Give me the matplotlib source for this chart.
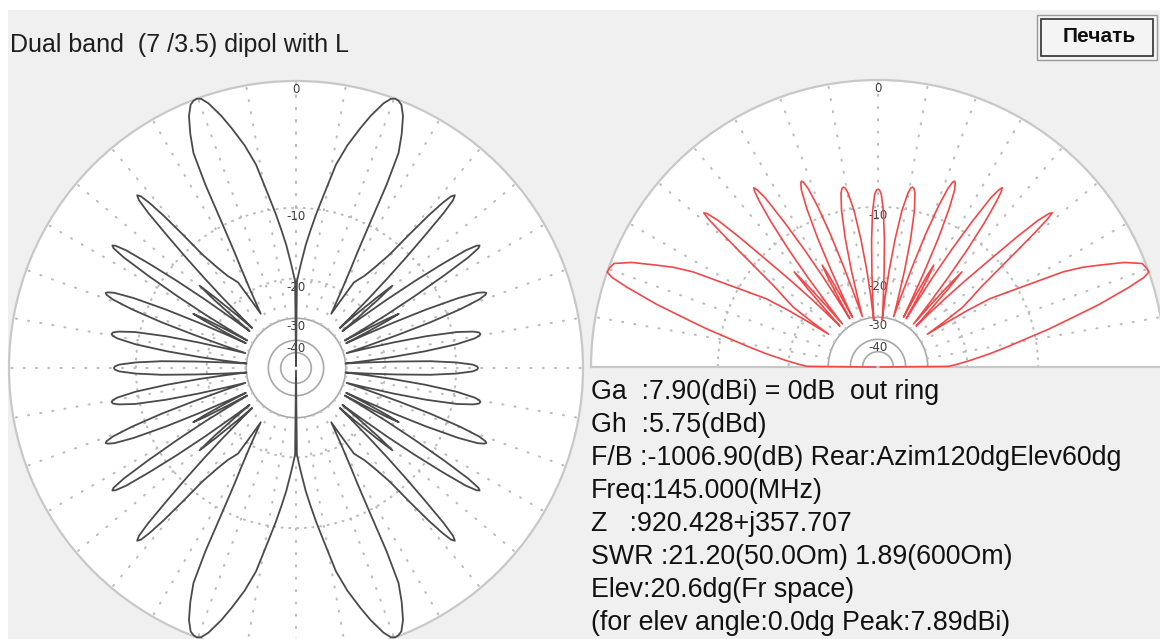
import numpy as np
import matplotlib
matplotlib.use("Agg")
import matplotlib.pyplot as plt
from matplotlib.patches import Rectangle

# ---------------------------------------------------------------- data
TITLE = "Dual band  (7 /3.5) dipol with L"
BUTTON = "Печать"

# Horizontal pattern, one quadrant: angle from the wire axis (deg) and gain (dB, 0 = outer ring)
az_deg = [0.0, 0.6, 2.6, 4.5, 6.0, 7.5, 9.3, 11.1, 13.0, 15.0, 16.5, 18.3, 19.4, 20.2, 21.0, 21.8, 23.0, 24.3,
          25.5, 26.3, 27.1, 28.0, 28.9, 30.5, 32.0, 33.0,
          33.6, 34.1, 35.5, 36.5, 38.0, 39.5, 40.3, 41.0, 41.6, 42.1, 42.6, 43.1, 43.6, 44.2, 44.9, 45.6,
          46.3, 47.0, 47.6,
          48.2, 48.9, 49.5, 50.2, 50.9, 51.5,
          52.2, 53.0, 53.8, 54.6, 55.3, 55.9, 56.3, 56.7, 57.3, 58.0, 58.8, 59.5, 60.1, 60.6,
          61.2, 61.7, 62.2, 62.7, 63.2, 63.7,
          64.3, 65.0, 65.8, 66.7, 67.5, 68.1, 68.5, 68.9, 69.5, 70.3, 71.2, 72.0, 72.8, 73.6,
          74.4, 75.3, 76.3, 77.4, 78.4, 79.0, 79.5, 80.0, 80.6, 81.6, 82.6, 83.5, 84.2, 84.8,
          85.5, 86.3, 87.1, 88.0, 88.9, 89.5, 90.0]
az_db = [-80, -20.5, -17.5, -14.5, -12.5, -10.5, -8.2, -5.6, -3.9, -2.5, -1.5, -0.5, -0.1, 0.0, -0.05, -0.2, -0.8, -1.9,
         -3.2, -5.8, -10.0, -13.5, -16.0, -20.0, -23.5, -25.5,
         -21, -17.5, -16.5, -15.8, -14.0, -11.5, -8.5, -6.0, -4.5, -3.7, -3.45, -3.8, -5.0, -7.5, -10.5, -14,
         -18, -23, -27,
         -22, -17, -14, -17, -22, -27,
         -22, -16, -11.5, -8, -5.6, -4.7, -4.5, -4.7, -5.8, -8.5, -12.5, -17, -23, -28,
         -22, -17.5, -15.5, -17.5, -22, -28,
         -23, -17, -12, -8.3, -6.5, -5.95, -5.8, -5.95, -6.6, -8.5, -12, -17, -23, -29,
         -24, -18, -13, -9.5, -7.9, -7.4, -7.3, -7.4, -7.9, -9.8, -13.5, -18.5, -24, -30,
         -24, -18, -13, -10, -8.3, -7.9, -7.8]

# Vertical pattern, elevation 0..90 deg (mirrored to 180) and gain (dB)
el_deg = [0.0, 0.5, 2.0, 4.0, 6.8, 9.0, 10.8, 12.5, 14.2, 15.8, 17.6, 18.6, 19.3, 20.2, 21.4, 23.0, 24.7, 26.0,
          27.2, 28.8, 30.2, 31.4, 32.3, 32.8, 33.2, 33.6,
          34.3, 35.2, 36.5, 37.8, 39.0, 39.9, 40.6, 41.1, 41.5, 41.9, 42.5, 43.1, 43.8, 44.7, 45.6, 46.4, 47.0,
          47.6, 48.1, 48.6, 49.2, 49.8, 50.4,
          51.1, 51.9, 52.7, 53.6, 54.4, 54.9, 55.3, 55.7, 56.3, 57.1, 57.9, 58.6, 59.2, 59.7,
          60.3, 60.8, 61.3, 61.8, 62.3, 62.8,
          63.4, 64.1, 64.9, 65.8, 66.6, 67.2, 67.6, 68.0, 68.6, 69.4, 70.3, 71.1, 71.9, 72.7,
          73.6, 74.6, 75.7, 76.9, 78.0, 78.6, 79.1, 79.6, 80.2, 81.3, 82.4, 83.4, 84.2, 84.8,
          85.5, 86.3, 87.1, 88.0, 88.9, 89.5, 90.0]
el_db = [-80, -24, -22, -19.5, -16, -13.3, -11, -8.5, -6.2, -3.8, -1.5, -0.4, 0.0, -0.05, -0.2, -1.2, -2.8, -4.0,
         -5.5, -9.0, -11.5, -13.4, -17, -20.5, -24, -27,
         -22, -17.5, -15.5, -13.5, -10.5, -7.8, -5.6, -4.2, -3.6, -3.8, -4.8, -7, -10.5, -14.5, -19, -24, -28,
         -22, -17, -14, -17, -22, -28,
         -22, -16, -11.5, -8, -5.9, -5.0, -4.7, -5.0, -5.9, -8.7, -12.5, -17, -23, -28,
         -22, -17.5, -15.5, -17.5, -22, -28,
         -23, -17, -12, -8.6, -6.8, -6.25, -6.1, -6.25, -6.9, -8.8, -12.3, -17, -23, -29,
         -24, -18, -13.3, -9.9, -8.2, -7.8, -7.7, -7.8, -8.3, -10.2, -13.8, -18.5, -24, -31,
         -25, -19, -14, -10.5, -8.7, -8.3, -8.2]

ring_levels = [0, -10, -20, -30, -40]
ring_labels = ["0", "-10", "-20", "-30", "-40"]
dotted_rings = [-10, -20]
solid_rings = [-30, -40, -50]

info_lines = [
    "Ga  :7.90(dBi) = 0dB  out ring",
    "Gh  :5.75(dBd)",
    "F/B :-1006.90(dB) Rear:Azim120dgElev60dg",
    "Freq:145.000(MHz)",
    "Z   :920.428+j357.707",
    "SWR :21.20(50.0Om) 1.89(600Om)",
    "Elev:20.6dg(Fr space)",
    "(for elev angle:0.0dg Peak:7.89dBi)",
]

# ---------------------------------------------------------------- figure
W, H = 1160, 639
fig = plt.figure(figsize=(W / 100, H / 100), dpi=100)
fig.patch.set_facecolor("white")


def px_rect(x0, y0, x1, y1):
    """pixel box (top-left origin) -> figure fraction rect"""
    return [x0 / W, 1 - y1 / H, (x1 - x0) / W, (y1 - y0) / H]


panel = Rectangle((8 / W, 0), 1, 1 - 10 / H, transform=fig.transFigure,
                  facecolor="#f0f0f0", edgecolor="none", zorder=-10)
fig.patches.append(panel)

# ARRL style log radius: every 2 dB shrinks the radius by a factor 0.89
KDB = -np.log(0.89) / 2.0


def fwd(d):
    return np.exp(KDB * np.asarray(d, dtype=float))


def inv(r):
    return np.log(np.maximum(np.asarray(r, dtype=float), 1e-12)) / KDB


GRID_DOT = "#bcbcbc"
RING = "#a8a8a8"
EDGE = "#c8c8c8"
R0 = 287


def style_axes(ax, label_theta, span):
    ax.set_rscale("function", functions=(fwd, inv))
    ax.set_rlim(-120, 0)
    ax.set_xticks([])
    ax.set_yticks([])
    ax.grid(False)
    ax.set_facecolor("white")
    for sp in ax.spines.values():
        sp.set_color(EDGE)
        sp.set_linewidth(1.6)
    th = np.linspace(span[0], span[1], 721)
    for lv in dotted_rings:
        ax.plot(th, np.full_like(th, lv), color=GRID_DOT, lw=1.5,
                ls=(0, (0.5, 3.2)), dash_capstyle="round", zorder=1)
    for lv in solid_rings:
        ax.plot(th, np.full_like(th, lv), color=RING, lw=1.2, zorder=1)
    for a in np.arange(span[0], span[1] + 1e-6, np.radians(10)):
        ax.plot([a, a], [-30, 0], color=GRID_DOT, lw=1.5,
                ls=(0, (0.5, 5.4)), dash_capstyle="round", zorder=1)
    for lv, lb in zip(ring_levels, ring_labels):
        ax.annotate(lb, xy=(label_theta, lv), xytext=(0, -1.5),
                    textcoords="offset points", ha="center", va="top",
                    fontsize=8.5, color="#3c3c3c", zorder=2,
                    family="DejaVu Sans")


# ---- horizontal (azimuth) pattern, full circle
axL = fig.add_axes(px_rect(296 - R0, 368 - R0, 296 + R0, 368 + R0), projection="polar")
axL.set_theta_zero_location("N")
axL.set_theta_direction(-1)
style_axes(axL, 0.0, (0.0, 2 * np.pi))

q_deg = np.asarray(az_deg)
q_db = np.asarray(az_db)
half_deg = np.concatenate([q_deg, 180.0 - q_deg[-2::-1]])
half_db = np.concatenate([q_db, q_db[-2::-1]])
full_deg = np.concatenate([half_deg, 360.0 - half_deg[-2::-1]])
full_db = np.concatenate([half_db, half_db[-2::-1]])
axL.plot(np.radians(full_deg), full_db, color="#4a4a4a", lw=1.3, zorder=3, clip_on=False)

# ---- vertical (elevation) pattern, upper half
# the half wedge is centred inside a square box, so the box is placed around the wedge centre
cxR, baseR = 878, 367
axR = fig.add_axes(px_rect(cxR - R0, baseR - R0 / 2 - R0, cxR + R0, baseR - R0 / 2 + R0),
                   projection="polar")
axR.set_theta_zero_location("E")
axR.set_theta_direction(1)
axR.set_thetamin(0)
axR.set_thetamax(180)
style_axes(axR, np.pi / 2, (0.0, np.pi))
axR.spines["inner"].set_visible(False)

e_deg = np.asarray(el_deg)
e_db = np.asarray(el_db)
e_full_deg = np.concatenate([e_deg, 180.0 - e_deg[-2::-1]])
e_full_db = np.concatenate([e_db, e_db[-2::-1]])
axR.plot(np.radians(e_full_deg), e_full_db, color="#f04848", lw=1.2, zorder=3, clip_on=False)

# ---- title, button and the info block
fig.text(10 / W, 1 - 52 / H, TITLE, ha="left", va="baseline", fontsize=18,
         color="#1e1e1e", family=["Liberation Sans", "DejaVu Sans"])

btn = Rectangle((1037 / W, 1 - 60 / H), 120 / W, 45 / H, transform=fig.transFigure,
                facecolor="#f4f4f4", edgecolor="#9a9a9a", lw=1.0)
fig.patches.append(btn)
btn_in = Rectangle((1041 / W, 1 - 56 / H), 112 / W, 37 / H, transform=fig.transFigure,
                   facecolor="none", edgecolor="#303030", lw=1.2)
fig.patches.append(btn_in)
fig.text(1099 / W, 1 - 37 / H, BUTTON, ha="center", va="center", fontsize=15,
         fontweight="bold", color="#101010", family=["Liberation Sans", "DejaVu Sans"])

for i, line in enumerate(info_lines):
    fig.text(591 / W, 1 - (399 + 33 * i) / H, line, ha="left", va="baseline",
             fontsize=19.3, color="#111111", family=["Liberation Sans", "DejaVu Sans"])

fig.savefig("out.png", dpi=100, facecolor=fig.get_facecolor())
